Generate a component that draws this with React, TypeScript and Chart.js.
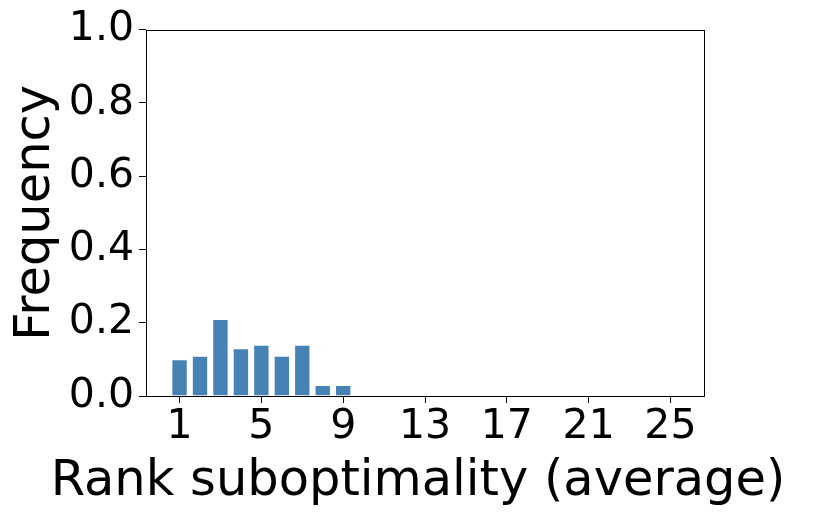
import React, { useEffect, useRef } from "react";
import { Chart, registerables } from "chart.js";

Chart.register(...registerables);

const ranks = [1, 2, 3, 4, 5, 6, 7, 8, 9, 10, 11, 12, 13, 14, 15, 16, 17, 18, 19, 20, 21, 22, 23, 24, 25];
const frequency = [0.10, 0.11, 0.21, 0.13, 0.14, 0.11, 0.14, 0.03, 0.03, 0, 0, 0, 0, 0, 0, 0, 0, 0, 0, 0, 0, 0, 0, 0, 0];
const xTicks = [1, 5, 9, 13, 17, 21, 25];
const yTicks = [0, 0.2, 0.4, 0.6, 0.8, 1.0];
const xLabel = "Rank suboptimality (average)";
const yLabel = "Frequency";

const FONT = "DejaVu Sans, Verdana, sans-serif";

const framePlugin = {
  id: "frame",
  afterDraw(chart: any) {
    const { ctx, chartArea } = chart;
    ctx.save();
    ctx.strokeStyle = "#000";
    ctx.lineWidth = 1;
    ctx.strokeRect(
      Math.round(chartArea.left) + 0.5,
      Math.round(chartArea.top) + 0.5,
      Math.round(chartArea.right - chartArea.left),
      Math.round(chartArea.bottom - chartArea.top)
    );
    // axis titles drawn without width compression
    ctx.fillStyle = "#000";
    ctx.font = `49.5px ${FONT}`;
    ctx.textAlign = "center";
    ctx.textBaseline = "alphabetic";
    const cx = (chartArea.left + chartArea.right) / 2 - 7;
    ctx.fillText(xLabel, cx, 495);
    ctx.save();
    const cy = (chartArea.top + chartArea.bottom) / 2;
    ctx.translate(49, cy);
    ctx.rotate(-Math.PI / 2);
    ctx.fillText(yLabel, 0, 0);
    ctx.restore();
    ctx.restore();
  },
};

export default function App() {
  const ref = useRef<HTMLCanvasElement>(null);
  useEffect(() => {
    document.body.style.margin = "0";
    const chart = new Chart(ref.current!, {
      type: "bar",
      data: {
        datasets: [
          {
            data: ranks.map((r, i) => ({ x: r, y: frequency[i] })),
            backgroundColor: "#4682B4",
            borderColor: "rgba(255,255,255,0.35)",
            borderWidth: 1,
            barPercentage: 1,
            categoryPercentage: 0.8,
          },
        ],
      },
      options: {
        animation: false,
        responsive: false,
        maintainAspectRatio: false,
        layout: { padding: { top: 29, right: 127, left: 0, bottom: 0 } },
        plugins: { legend: { display: false }, tooltip: { enabled: false } },
        scales: {
          x: {
            type: "linear",
            min: -0.64,
            max: 26.64,
            offset: false,
            afterBuildTicks: (s: any) => {
              s.ticks = xTicks.map((v) => ({ value: v }));
            },
            afterFit: (s: any) => {
              s.height = 121;
            },
            grid: { offset: false, drawOnChartArea: false, drawTicks: true, tickLength: 7, color: "#000", lineWidth: 1 },
            border: { display: false },
            ticks: { color: "#000", font: { family: FONT, size: 41 }, padding: 0, maxRotation: 0, autoSkip: false },
            title: { display: false },
          },
          y: {
            min: 0,
            max: 1,
            afterBuildTicks: (s: any) => {
              s.ticks = yTicks.map((v) => ({ value: v }));
            },
            afterFit: (s: any) => {
              s.width = 146;
            },
            grid: { drawOnChartArea: false, drawTicks: true, tickLength: 7, color: "#000", lineWidth: 1 },
            border: { display: false },
            ticks: {
              color: "#000",
              font: { family: FONT, size: 41 },
              padding: 5,
              callback: (v: any) => Number(v).toFixed(1),
            },
            title: { display: false },
          },
        },
      },
      plugins: [framePlugin],
    });
    return () => chart.destroy();
  }, []);
  return (
    <div style={{ width: 831, height: 517 }}>
      <canvas ref={ref} width={831} height={517} style={{ width: 831, height: 517 }} />
    </div>
  );
}
